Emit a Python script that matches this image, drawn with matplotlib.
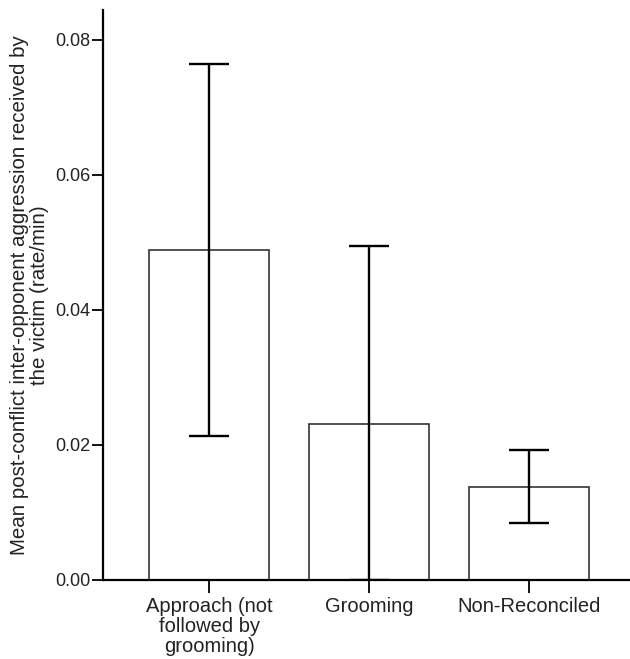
import matplotlib
matplotlib.use('Agg')
import matplotlib.pyplot as plt
import numpy as np

plt.rcParams['font.family'] = ['Liberation Sans', 'DejaVu Sans']

# data
categories = ['Approach (not\nfollowed by\ngrooming)', 'Grooming', 'Non-Reconciled']
means = [0.0489, 0.0231, 0.0138]
upper = [0.0764, 0.0495, 0.0192]
lower = [0.0213, 0.0000, 0.0084]
yticks = [0.00, 0.02, 0.04, 0.06, 0.08]

x = np.arange(len(categories))
err = [np.array(means) - np.array(lower), np.array(upper) - np.array(means)]

fig = plt.figure(figsize=(6.30, 6.59), dpi=100)
ax = fig.add_axes([0.1627, 0.1199, 1.0 - 0.1627, 0.9848 - 0.1199])

ax.bar(x, means, width=0.75, color='white', edgecolor='#333333', linewidth=1.2, zorder=2)
ax.errorbar(x, means, yerr=err, fmt='none', ecolor='black', elinewidth=1.7,
            capsize=14.4, capthick=1.7, zorder=3)

ax.set_xlim(-0.666, 2.63)
ax.set_ylim(0, 0.0844)
ax.set_yticks(yticks)
ax.set_yticklabels(['%.2f' % v for v in yticks])
ax.set_xticks(x)
ax.set_xticklabels(categories, fontsize=14.5, color='#222222', linespacing=1.08)
ax.tick_params(axis='y', labelsize=13, labelcolor='#222222', length=8, width=1.3, pad=1)
ax.tick_params(axis='x', length=9, width=1.3, pad=3)

for s in ['top', 'right']:
    ax.spines[s].set_visible(False)
ax.spines['left'].set_linewidth(1.6)
ax.spines['bottom'].set_linewidth(1.6)

ax.set_ylabel('Mean post-conflict inter-opponent aggression received by\nthe victim (rate/min)',
              fontsize=14.8, color='#222222', linespacing=1.1, labelpad=4)

fig.savefig('out.png', dpi=100)
